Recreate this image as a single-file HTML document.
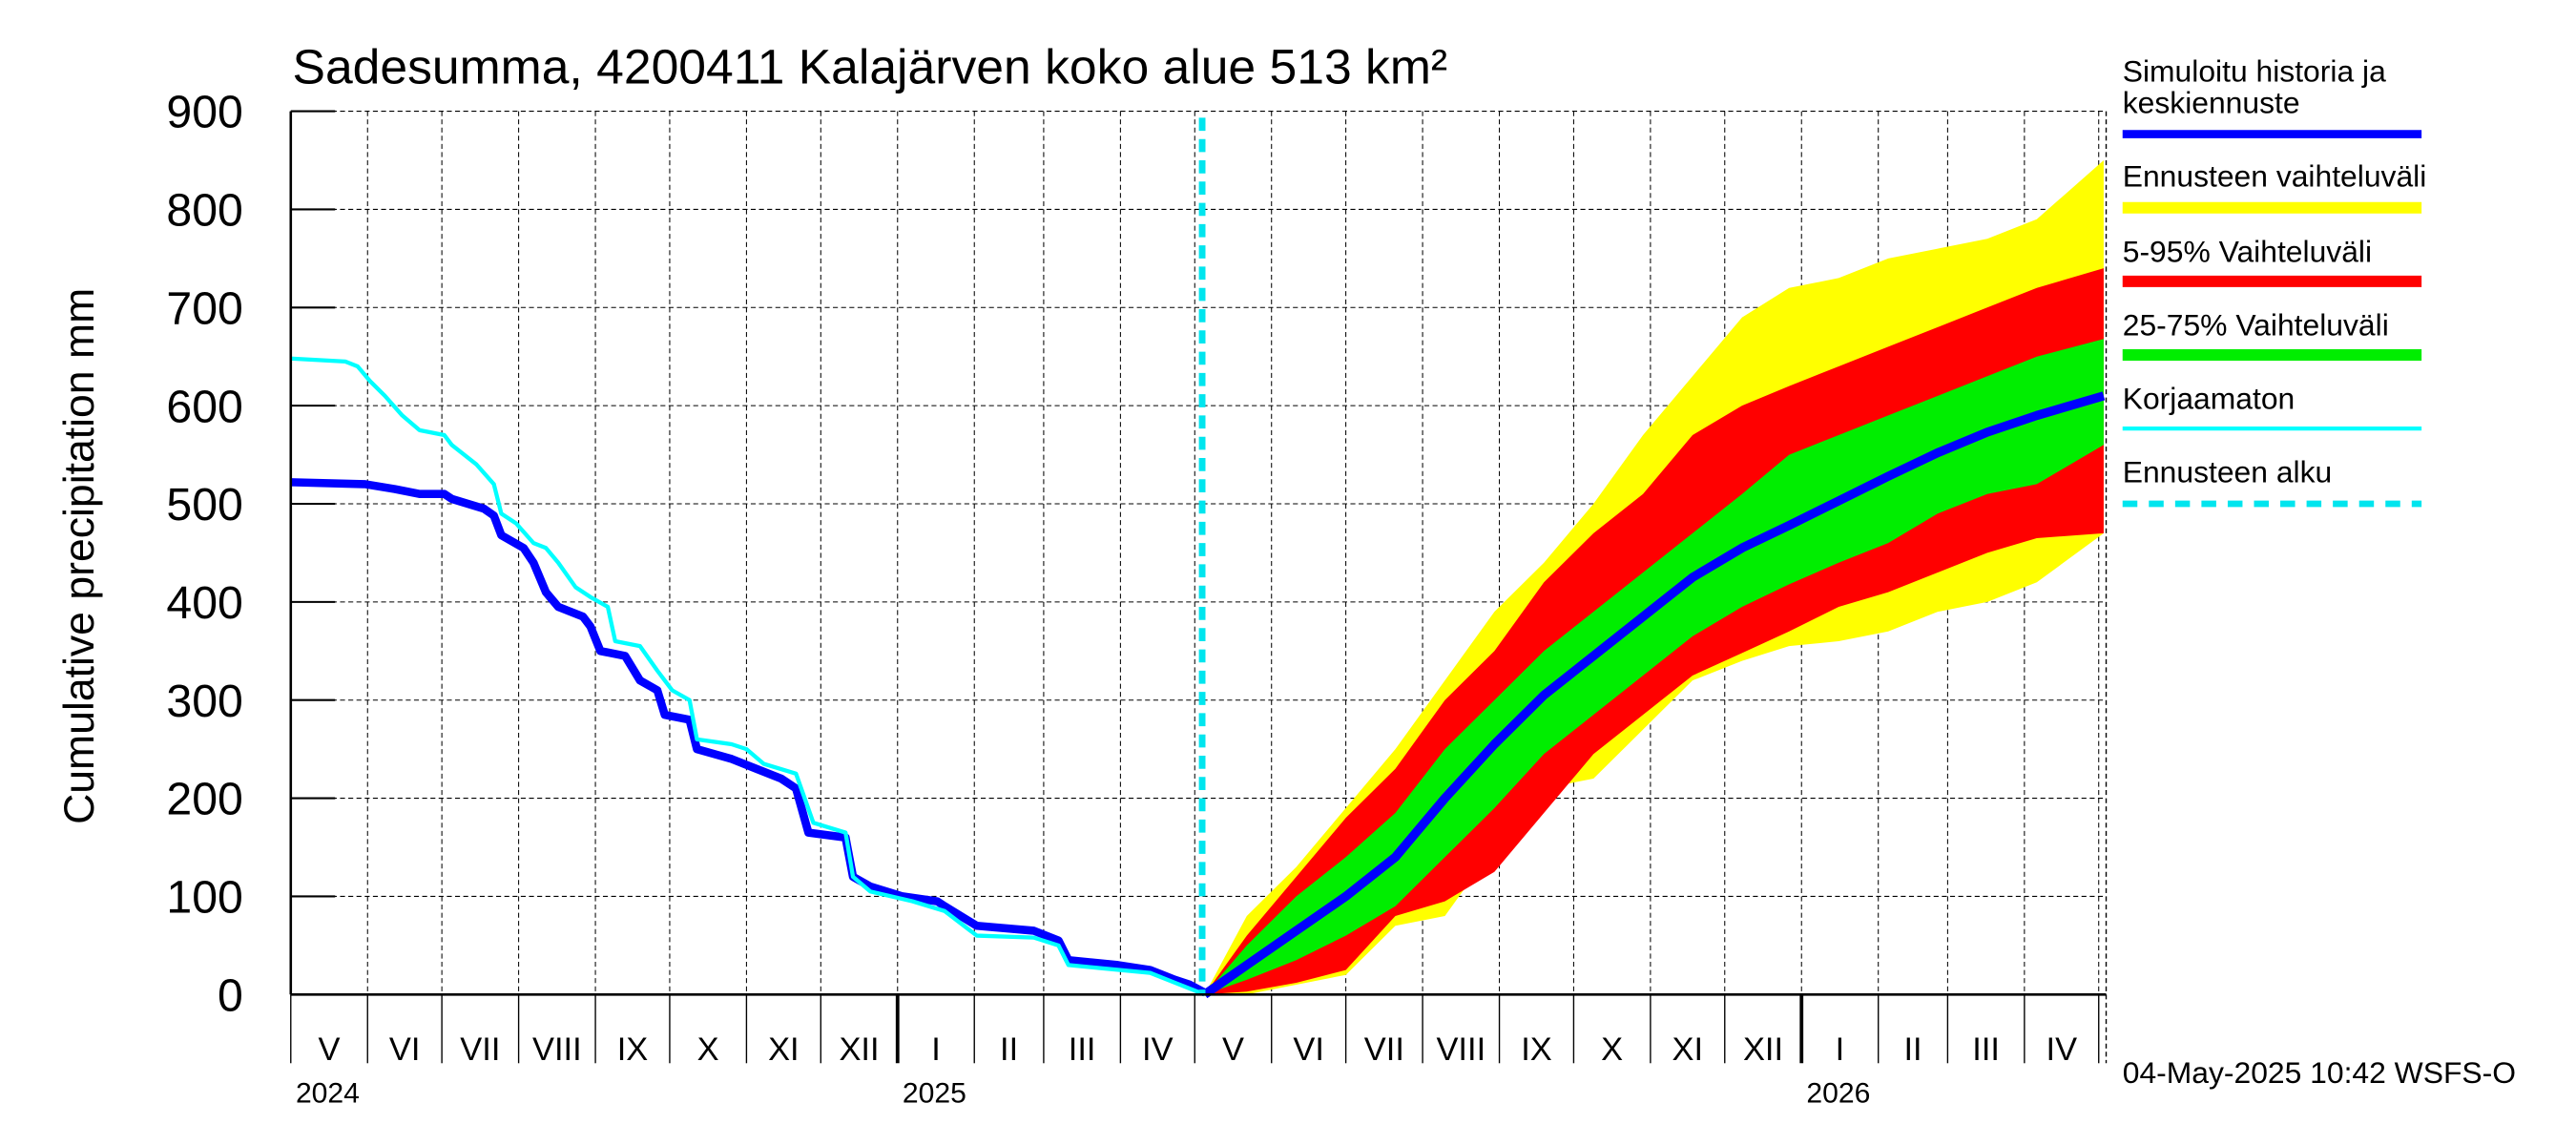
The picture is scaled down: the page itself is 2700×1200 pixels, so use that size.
<!DOCTYPE html>
<html><head><meta charset="utf-8"><style>
html,body{margin:0;padding:0;background:#fff}
svg{display:block}
text{font-family:"Liberation Sans",sans-serif}
</style></head><body>
<svg id="chart" width="2700" height="1200" viewBox="0 0 1568 700" preserveAspectRatio="none" xmlns="http://www.w3.org/2000/svg">
<rect x="0" y="0" width="1568" height="700" fill="#fff"/>
<g id="grid"></g>
<g id="bands"></g>
<g id="lines"></g>
<g id="axes"></g>
<text x="178" y="51" font-size="30">Sadesumma, 4200411 Kalajärven koko alue 513 km²</text>
<text transform="translate(57,340) rotate(-90)" text-anchor="middle" font-size="26">Cumulative precipitation   mm</text>
<g>
<text x="1292" y="50" font-size="18.5">Simuloitu historia ja</text>
<text x="1292" y="69" font-size="18.5">keskiennuste</text>
<line x1="1292" y1="82" x2="1474" y2="82" stroke="#0000ff" stroke-width="5"/>
<text x="1292" y="114" font-size="18.5">Ennusteen vaihteluväli</text>
<line x1="1292" y1="127" x2="1474" y2="127" stroke="#ffff00" stroke-width="7"/>
<text x="1292" y="160" font-size="18.5">5-95% Vaihteluväli</text>
<line x1="1292" y1="172" x2="1474" y2="172" stroke="#ff0000" stroke-width="7"/>
<text x="1292" y="205" font-size="18.5">25-75% Vaihteluväli</text>
<line x1="1292" y1="217" x2="1474" y2="217" stroke="#00ee00" stroke-width="7"/>
<text x="1292" y="250" font-size="18.5">Korjaamaton</text>
<line x1="1292" y1="262" x2="1474" y2="262" stroke="#00ffff" stroke-width="2.5"/>
<text x="1292" y="295" font-size="18.5">Ennusteen alku</text>
<line x1="1292" y1="308" x2="1474" y2="308" stroke="#00e5ee" stroke-width="4" stroke-dasharray="9,7"/>
</g>
<text x="1292" y="662" font-size="18.5">04-May-2025 10:42 WSFS-O</text>
</svg>
<script>
const yTicks = [0,100,200,300,400,500,600,700,800,900];
const monthLabels = ["V","VI","VII","VIII","IX","X","XI","XII","I","II","III","IV","V","VI","VII","VIII","IX","X","XI","XII","I","II","III","IV"];
const monthStartDays = [0,31,61,92,123,153,184,214,245,276,304,335,365,396,426,457,488,518,549,579,610,641,669,700,730];
const yearLabels = ["2024","2025","2026"];
const yearDays = [0,245,610];
const forecastStartDay = 368;
const histDays = [0,30,42,52,62,65,78,82,85,94,98,103,108,118,121,125,135,141,148,151,161,164,178,188,198,204,209,224,227,234,247,261,264,277,300,310,314,334,347,357,363,369];
const histValues = [522,520,515,510,510,505,495,488,468,455,440,410,395,385,375,350,345,320,310,285,280,250,240,230,220,210,165,160,120,110,100,95,90,70,65,55,35,30,25,15,10,2];
const uncorrDays = [0,22,27,32,38,45,52,62,65,75,82,85,91,98,103,108,115,121,128,131,141,148,154,161,164,178,184,191,204,211,224,227,234,251,264,277,300,310,314,347,357,369];
const uncorrValues = [648,645,640,625,610,590,575,570,560,540,520,490,480,460,455,440,415,405,395,360,355,330,310,300,260,255,250,235,225,175,165,120,105,95,85,60,58,50,30,22,12,0];
const fcDays = [369,386,406,426,446,466,486,506,526,546,566,586,605,625,645,665,685,705,732];
const medianValues = [0,30,65,100,140,200,255,305,345,385,425,455,478,503,528,552,573,590,610];
const p75Values = [0,50,100,140,185,250,300,350,390,430,470,510,550,570,590,610,630,650,668];
const p25Values = [0,15,35,60,90,140,190,245,285,325,365,395,418,440,460,490,510,520,560];
const p95Values = [0,60,120,180,230,300,350,420,470,510,570,600,620,640,660,680,700,720,740];
const p5Values = [0,3,12,25,80,95,125,185,245,285,325,348,370,395,410,430,450,465,470];
const maxValues = [0,80,130,190,250,320,390,440,500,570,630,690,720,730,750,760,770,790,850];
const minValues = [0,0,10,20,70,80,150,210,220,270,320,340,355,360,370,390,400,420,470];

const NS="http://www.w3.org/2000/svg";
const X0=177,X1=1282,Y0=608,Y1=68,DAYSPAN=733;
function xs(d){return X0+(X1-X0)*d/DAYSPAN;}
function ys(v){return Y0-(Y0-Y1)*v/900;}
function mk(tag,attrs,parent){const e=document.createElementNS(NS,tag);for(const k in attrs)e.setAttribute(k,attrs[k]);parent.appendChild(e);return e;}
const grid=document.getElementById('grid'),bands=document.getElementById('bands'),lines=document.getElementById('lines'),axes=document.getElementById('axes');

yTicks.forEach(v=>{
  const g=mk('line',{x1:X0,x2:X1,y1:ys(v),y2:ys(v),stroke:'#000','stroke-width':0.6,'stroke-dasharray':'3,2'},grid);
  
  
  const t=mk('line',{x1:X0,x2:X0+27,y1:ys(v),y2:ys(v),stroke:'#000','stroke-width':1.2},axes);
  
  
  const l=mk('text',{x:148,y:ys(v)+10,'text-anchor':'end','font-size':28},axes);
  l.textContent=v;
  
  
});
monthStartDays.forEach((d,i)=>{
  const gl=mk('line',{x1:xs(d),x2:xs(d),y1:Y1,y2:Y0,stroke:'#000','stroke-width':0.6,'stroke-dasharray':'3,2'},grid);
  
  
  const isYear=yearDays.includes(d)&&d>0;
  const tk=mk('line',{x1:xs(d),x2:xs(d),y1:Y0,y2:650,stroke:'#000','stroke-width':isYear?2.2:0.8},axes);
  
  
  if(i<monthLabels.length){
    const t=mk('text',{x:(xs(d)+xs(monthStartDays[i+1]))/2,y:648,'text-anchor':'middle','font-size':20},axes);
    t.textContent=monthLabels[i];
    
    
  }
});
mk('line',{x1:X1,x2:X1,y1:Y1,y2:650,stroke:'#000','stroke-width':0.8,'stroke-dasharray':'3,2'},grid);
yearLabels.forEach((y,i)=>{
  const t=mk('text',{x:xs(yearDays[i])+3,y:674,'font-size':17.5},axes);
  t.textContent=y;
  
  
});
function band(lo,hi,color,name){
  let p='M'+fcDays.map((d,i)=>xs(d)+','+ys(hi[i])).join('L');
  for(let i=fcDays.length-1;i>=0;i--)p+='L'+xs(fcDays[i])+','+ys(lo[i]);
  const e=mk('path',{d:p+'Z',fill:color},bands);
  
  
}
band(minValues,maxValues,'#ffff00','band-min-max');
band(p5Values,p95Values,'#ff0000','band-5-95');
band(p25Values,p75Values,'#00ee00','band-25-75');
function line(days,vals,color,w,name){
  const e=mk('polyline',{points:days.map((d,i)=>xs(d)+','+ys(vals[i])).join(' '),fill:'none',stroke:color,'stroke-width':w,'stroke-linejoin':'round'},lines);
  
  
}
line(histDays,histValues,'#0000ff',5,'simulated-history-line');
line(uncorrDays,uncorrValues,'#00ffff',2.5,'uncorrected-line');
line(fcDays,medianValues,'#0000ff',5.5,'median-forecast-line');
const fs=mk('line',{x1:xs(forecastStartDay),x2:xs(forecastStartDay),y1:72,y2:Y0,stroke:'#00e5ee','stroke-width':4,'stroke-dasharray':'8,5'},lines);


const ax1=mk('line',{x1:X0,x2:X0,y1:Y1,y2:Y0,stroke:'#000','stroke-width':1.5},axes);


const ax2=mk('line',{x1:X0,x2:X1,y1:Y0,y2:Y0,stroke:'#000','stroke-width':1.5},axes);


</script>
</body></html>
